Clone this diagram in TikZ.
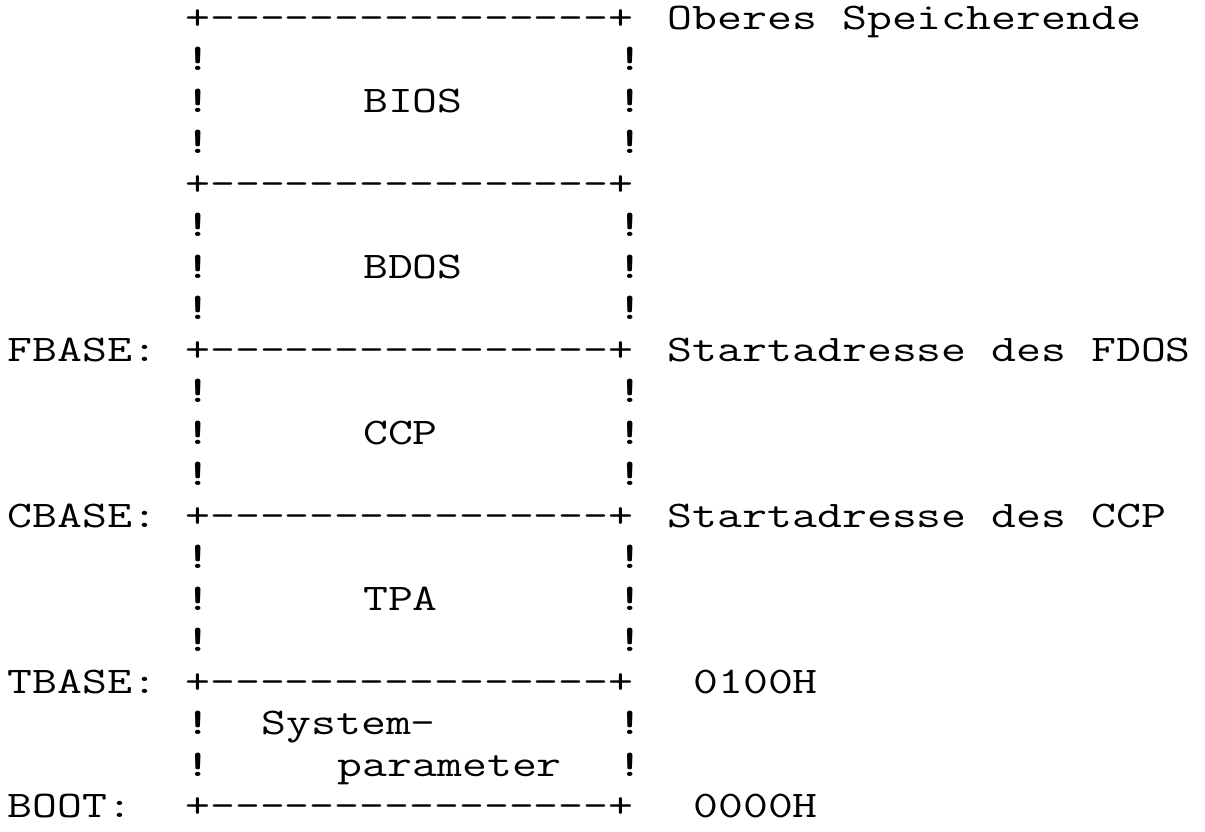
\documentclass[tikz,border=0pt]{standalone}
\usepackage{graphicx}
\newcommand{\tw}[1]{\scalebox{1.286}[1]{#1}}
\newcommand{\hy}{-\kern0pt}
\newcommand{\sepline}{\tw{+\hy\hy\hy\hy\hy\hy\hy\hy\hy\hy\hy\hy\hy\hy\hy\hy+}}
\tikzset{
  x=1pt, y=1pt,
  tt/.style={font=\fontsize{37.6}{40}\selectfont\ttfamily, anchor=base west, inner sep=0pt, outer sep=0pt},
  bar/.style={tt, font=\fontsize{37.6}{40}\selectfont\ttfamily\bfseries},
  cell/.style 2 args={at={({7.5+25.4*#1},{-(29+41.5*#2)})}},
}
\begin{document}
\begin{tikzpicture}
\useasboundingbox (0,0) rectangle (1205,-831);
% separator lines of the memory map
\node[tt, cell={7}{0}]  (s0)  {\sepline};
\node[tt, cell={7}{4}]  (s4)  {\sepline};
\node[tt, cell={7}{8}]  (s8)  {\sepline};
\node[tt, cell={7}{12}] (s12) {\sepline};
\node[tt, cell={7}{16}] (s16) {\sepline};
\node[tt, cell={7}{19}] (s19) {\sepline};
% side bars
\foreach \r in {1,2,3,5,6,7,9,10,11,13,14,15,17,18}{
  \node[bar, cell={7}{\r}]  (bl\r) {\tw{!}};
  \node[bar, cell={24}{\r}] (br\r) {\tw{!}};
}
% region names
\node[tt, cell={14}{2}]  (bios) {\tw{BIOS}};
\node[tt, cell={14}{6}]  (bdos) {\tw{BDOS}};
\node[tt, cell={14}{10}] (ccp)  {\tw{CCP}};
\node[tt, cell={14}{14}] (tpa)  {\tw{TPA}};
\node[tt, cell={10}{17}] (sys1) {\tw{System-}};
\node[tt, cell={13}{18}] (sys2) {\tw{parameter}};
% left labels
\node[tt, cell={0}{8}]  (fbase) {\tw{FBASE:}};
\node[tt, cell={0}{12}] (cbase) {\tw{CBASE:}};
\node[tt, cell={0}{16}] (tbase) {\tw{TBASE:}};
\node[tt, cell={0}{19}] (boot)  {\tw{BOOT:}};
% right labels
\node[tt, cell={26}{0}]  (top)  {\tw{Oberes Speicherende}};
\node[tt, cell={26}{8}]  (fdos) {\tw{Startadresse des FDOS}};
\node[tt, cell={26}{12}] (sccp) {\tw{Startadresse des CCP}};
\node[tt, cell={27}{16}] (a100) {\tw{0100H}};
\node[tt, cell={27}{19}] (a000) {\tw{0000H}};
\end{tikzpicture}
\end{document}
